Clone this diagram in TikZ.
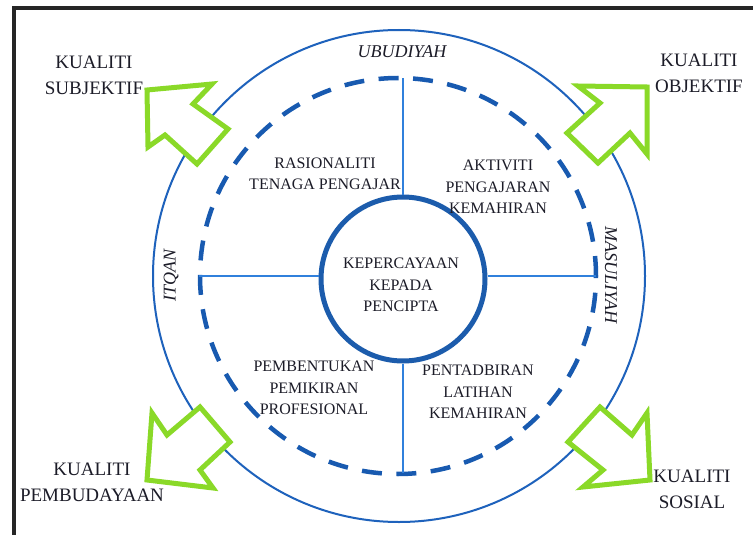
\documentclass[tikz,border=0pt]{standalone}
\usepackage{fontspec}
\setmainfont{Liberation Serif}
\definecolor{garrow}{RGB}{138,217,40}
\definecolor{ringblue}{RGB}{30,98,188}
\definecolor{dashblue}{RGB}{24,90,176}
\definecolor{coreblue}{RGB}{28,92,172}
\definecolor{lineblue}{RGB}{48,128,220}
\definecolor{txt}{RGB}{28,28,40}
\tikzset{
  outerlabel/.style={align=center,text=txt,font=\fontsize{19}{26}\selectfont,inner sep=0pt},
  innerlabel/.style={align=center,text=txt,font=\fontsize{16}{21.5}\selectfont,inner sep=0pt},
  ringlabel/.style={text=txt,font=\fontsize{18}{22}\selectfont\itshape,inner sep=0pt},
  bigarrow/.style={draw=garrow,fill=white,line width=5pt,line join=miter},
  crossline/.style={draw=lineblue,line width=2pt},
}
\begin{document}
\begin{tikzpicture}[x=1pt,y=-1pt]
\useasboundingbox (0,0) rectangle (753,535);
\fill[white] (0,0) rectangle (753,535);
% frame
\draw[line width=4pt,draw=black!85] (14,545) -- (14,8) -- (765,8);
% circles
\node[circle,draw=ringblue,line width=2pt,minimum size=492pt,inner sep=0pt] (outer) at (399,276) {};
\node[circle,draw=dashblue,line width=4.5pt,dash pattern=on 20pt off 14.5pt,minimum size=396pt,inner sep=0pt] (mid) at (398,276) {};
\node[circle,draw=coreblue,line width=5pt,minimum size=164pt,inner sep=0pt] (core) at (403,279) {};
% cross lines
\coordinate (ctop) at (403,78);
\coordinate (cbot) at (403,473);
\coordinate (cleft) at (199,276);
\coordinate (cright) at (596,276);
\draw[crossline] (core.north) -- (ctop);
\draw[crossline] (core.south) -- (cbot);
\draw[crossline] (core.west |- cleft) -- (cleft);
\draw[crossline] (core.east |- cright) -- (cright);
% ring labels
\node[ringlabel] (ubud) at (402,52) {UBUDIYAH};
\node[ringlabel,rotate=90] (itqan) at (171,275) {ITQAN};
\node[ringlabel,rotate=-90] (masul) at (611,275) {MASULIYAH};
% inner labels
\node[innerlabel] (core text) at (401,285) {KEPERCAYAAN\\KEPADA\\PENCIPTA};
\node[innerlabel] (rasio) at (325,174) {RASIONALITI\\TENAGA PENGAJAR};
\node[innerlabel] (aktiv) at (498,187) {AKTIVITI\\PENGAJARAN\\KEMAHIRAN};
\node[innerlabel] (pemben) at (314,388) {PEMBENTUKAN\\PEMIKIRAN\\PROFESIONAL};
\node[innerlabel] (pentad) at (478,392) {PENTADBIRAN\\LATIHAN\\KEMAHIRAN};
% green arrows
\draw[bigarrow] (147,90) -- (212,84) -- (193,104) -- (228,129) -- (197,164) -- (165,135) -- (148,147) -- cycle;
\draw[bigarrow] (647,87) -- (578,86) -- (600,103) -- (567,133) -- (598,163) -- (630,133) -- (647,154) -- cycle;
\draw[bigarrow] (147,480) -- (152,413) -- (167,435) -- (200,407) -- (230,442) -- (200,470) -- (213,488) -- cycle;
\draw[bigarrow] (650,480) -- (647,413) -- (632,435) -- (600,407) -- (568,442) -- (603,470) -- (583,487) -- cycle;
% outer labels
\node[outerlabel] (subj) at (94,75) {KUALITI\\SUBJEKTIF};
\node[outerlabel] (obj) at (699,73) {KUALITI\\OBJEKTIF};
\node[outerlabel] (pemb) at (92,482) {KUALITI\\PEMBUDAYAAN};
\node[outerlabel] (sos) at (692,489) {KUALITI\\SOSIAL};
\end{tikzpicture}
\end{document}
